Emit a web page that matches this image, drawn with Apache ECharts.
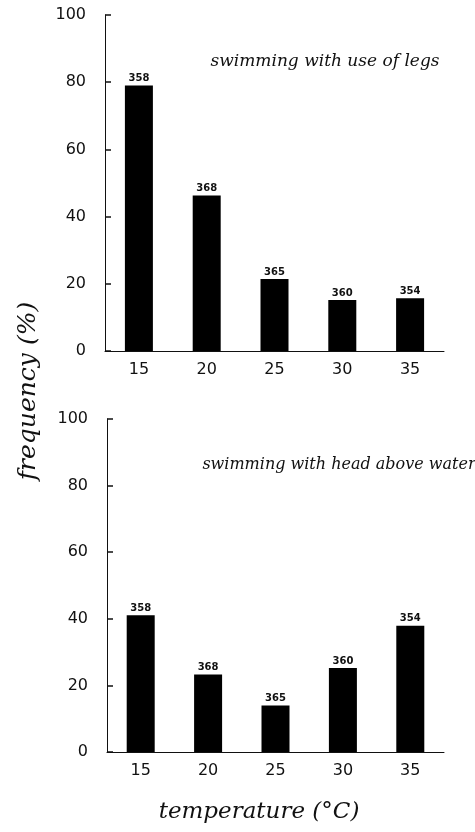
<!DOCTYPE html>
<html>
<head>
<meta charset="utf-8">
<script src="https://cdn.jsdelivr.net/npm/echarts@6/dist/echarts.min.js"></script>
<style>html,body{margin:0;padding:0;background:#fff;}#c{width:475px;height:832px;}</style>
</head>
<body>
<div id="c"></div>
<script>
const categories = ['15', '20', '25', '30', '35'];
const legsValues = [79.0, 46.3, 21.4, 15.2, 15.7];
const headValues = [41.1, 23.3, 14.0, 25.2, 37.9];
const sampleSizes = ['358', '368', '365', '360', '354'];
const yTicks = [0, 20, 40, 60, 80, 100];
const panelTitles = ['swimming with use of legs', 'swimming with head above water'];
const yAxisTitle = 'frequency (%)';
const xAxisTitle = 'temperature (°C)';

const ink = '#111';
const tickFont = 'DejaVu Sans';
const handFont = 'DejaVu Serif';

function xAxisCfg(gridIndex) {
  return {
    type: 'category', gridIndex, data: categories,
    axisLine: { lineStyle: { color: ink, width: 1 } },
    axisTick: { show: false },
    axisLabel: { color: ink, fontFamily: tickFont, fontSize: 16, margin: 11 }
  };
}
function yAxisCfg(gridIndex) {
  return {
    type: 'value', gridIndex, min: 0, max: 100, interval: 20,
    splitLine: { show: false },
    axisLine: { show: true, lineStyle: { color: ink, width: 1 } },
    axisTick: { show: true, inside: true, length: 6, lineStyle: { color: ink, width: 1.5 } },
    axisLabel: { color: ink, fontFamily: tickFont, fontSize: 16, margin: 19,
      formatter: v => yTicks.includes(v) ? String(v) : '' }
  };
}
function barSeries(idx, values) {
  return {
    type: 'bar', xAxisIndex: idx, yAxisIndex: idx, data: values,
    barWidth: 28,
    itemStyle: { color: '#000' },
    label: {
      show: true, position: 'top', distance: 2,
      formatter: p => sampleSizes[p.dataIndex],
      color: ink, fontFamily: tickFont, fontSize: 10, fontWeight: 'bold'
    }
  };
}

const chart = echarts.init(document.getElementById('c'), null, { renderer: 'canvas' });
chart.setOption({
  animation: false,
  backgroundColor: '#fff',
  grid: [
    { left: 105, top: 15, width: 339, height: 336 },
    { left: 107, top: 419, width: 337, height: 333 }
  ],
  xAxis: [xAxisCfg(0), xAxisCfg(1)],
  yAxis: [yAxisCfg(0), yAxisCfg(1)],
  series: [barSeries(0, legsValues), barSeries(1, headValues)],
  graphic: [
    { type: 'text', x: 325, y: 62, style: { text: panelTitles[0], fontFamily: handFont, fontStyle: 'italic', fontSize: 17, fill: ink, textAlign: 'center', textVerticalAlign: 'middle' } },
    { type: 'text', x: 339, y: 465, style: { text: panelTitles[1], fontFamily: handFont, fontStyle: 'italic', fontSize: 16, fill: ink, textAlign: 'center', textVerticalAlign: 'middle' } },
    { type: 'text', x: 28, y: 391, rotation: Math.PI / 2, style: { text: yAxisTitle, fontFamily: handFont, fontStyle: 'italic', fontSize: 25, fill: ink, textAlign: 'center', textVerticalAlign: 'middle' } },
    { type: 'text', x: 259, y: 812, style: { text: xAxisTitle, fontFamily: handFont, fontStyle: 'italic', fontSize: 23, fill: ink, textAlign: 'center', textVerticalAlign: 'middle' } }
  ]
});
</script>
</body>
</html>
